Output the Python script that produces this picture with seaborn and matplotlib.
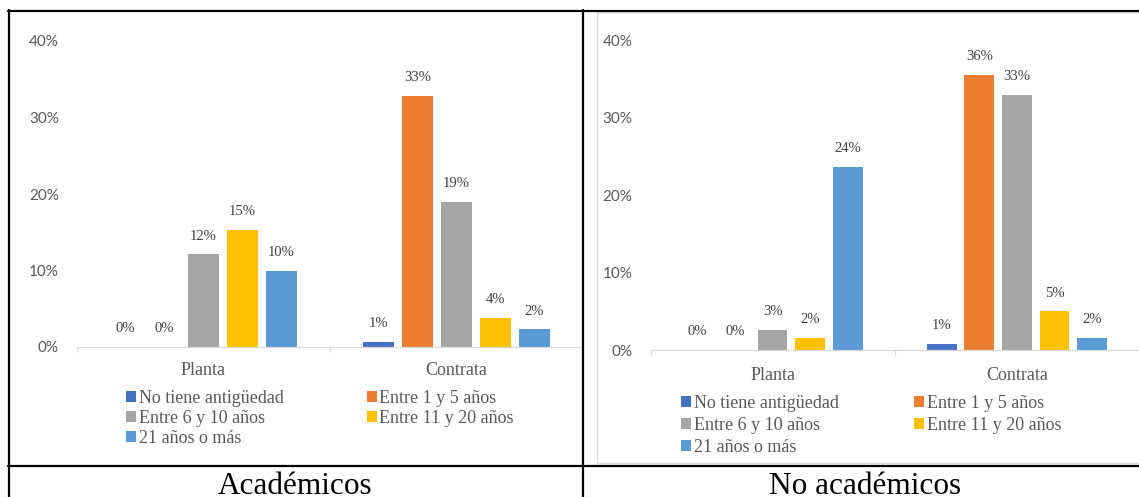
import matplotlib
matplotlib.use("Agg")
import matplotlib.pyplot as plt
from matplotlib.lines import Line2D
from matplotlib.patches import Rectangle
import seaborn as sns
import pandas as pd

# ---------------- data ----------------
tipos = ["Planta", "Contrata"]
antiguedad = ["No tiene antigüedad", "Entre 1 y 5 años", "Entre 6 y 10 años",
              "Entre 11 y 20 años", "21 años o más"]
colores = ["#4472C4", "#ED7D31", "#A5A5A5", "#FFC000", "#5B9BD5"]

acad_planta = [0.0, 0.0, 12.1, 15.3, 9.9]
acad_contrata = [0.7, 32.8, 19.0, 3.8, 2.3]
noacad_planta = [0.0, 0.0, 2.6, 1.6, 23.7]
noacad_contrata = [0.8, 35.6, 33.0, 5.0, 1.6]

yticks = [0, 10, 20, 30, 40]
ytick_labels = ["0%", "10%", "20%", "30%", "40%"]
titulos = ["Académicos", "No académicos"]

# ---------------- style ----------------
sns.set_theme(style="white")
plt.rcParams["font.family"] = ["Liberation Serif", "DejaVu Serif"]

W, H = 1139, 497
fig = plt.figure(figsize=(W / 100, H / 100), dpi=100)
fig.patch.set_facecolor("white")


def make_df(planta, contrata):
    rows = []
    for t, vals in zip(tipos, [planta, contrata]):
        for a, v in zip(antiguedad, vals):
            rows.append({"tipo": t, "antig": a, "valor": v})
    return pd.DataFrame(rows)


def panel(rect_px, cat_w, planta, contrata, leg_xy, colspace, labelspace, xlabpad):
    left, right, top, bottom = rect_px
    ax = fig.add_axes([left / W, 1 - bottom / H, (right - left) / W, (bottom - top) / H])
    df = make_df(planta, contrata)
    sns.barplot(data=df, x="tipo", y="valor", hue="antig", order=tipos,
                hue_order=antiguedad, palette=colores, width=0.77, gap=0.21,
                linewidth=0, saturation=1, ax=ax, legend=True)
    ax.set_xlim(-0.5, -0.5 + (right - left) / cat_w)
    ax.set_ylim(0, 40)
    ax.set_xlabel("")
    ax.set_ylabel("")
    ax.patch.set_alpha(0)
    for s in ["left", "top", "right"]:
        ax.spines[s].set_visible(False)
    ax.spines["bottom"].set_color("#D9D9D9")
    ax.spines["bottom"].set_linewidth(0.9)

    ax.set_yticks(yticks)
    ax.set_yticklabels(ytick_labels, fontfamily="Lato", fontsize=11, color="#595959")
    ax.tick_params(axis="y", length=0, pad=13)

    ax.set_xticks([0, 1])
    ax.set_xticklabels(tipos, fontfamily="Liberation Serif", fontsize=13, color="#595959")
    ax.tick_params(axis="x", which="major", length=0, pad=xlabpad)
    ax.set_xticks([-0.5, 0.5, 1.5], minor=True)
    ax.tick_params(axis="x", which="minor", length=3.6, width=0.9, color="#D9D9D9",
                   direction="out", bottom=True)

    for cont in ax.containers:
        ax.bar_label(cont, fmt=lambda v: f"{v:.0f}%", padding=8.5,
                     fontsize=10.5, color="#404040", fontfamily="Liberation Serif")

    h, l = ax.get_legend_handles_labels()
    ax.get_legend().remove()
    order = [0, 2, 4, 1, 3]
    ax.legend([h[i] for i in order], [l[i] for i in order], ncol=2,
              loc="upper left", bbox_to_anchor=(leg_xy[0] / W, 1 - leg_xy[1] / H),
              bbox_transform=fig.transFigure, frameon=False, borderpad=0,
              borderaxespad=0, handlelength=0.55, handleheight=0.55,
              handletextpad=0.15, columnspacing=colspace, labelspacing=labelspace,
              prop={"family": "Liberation Serif", "size": 13}, labelcolor="#595959")
    return ax


# right chart frame (light grey box)
fig.add_artist(Rectangle((597 / W, 1 - 462.5 / H), (1150 - 597) / W, (462.5 - 12) / H,
                         transform=fig.transFigure, facecolor="white",
                         edgecolor="#D9D9D9", linewidth=1.0, zorder=0))

panel((77, 583, 41, 347), 259, acad_planta, acad_contrata, (126, 390), 4.6, 0.17, 10.5)
panel((650.5, 1139, 40.5, 350), 254, noacad_planta, noacad_contrata, (681, 395), 4.2, 0.28, 12)

# table lines
lw = 1.6
for (x0, y0, x1, y1) in [(8, 10.5, 1139, 10.5), (8.5, 10, 8.5, 497),
                         (583, 10, 583, 497), (8, 465.5, 1139, 465.5)]:
    fig.add_artist(Line2D([x0 / W, x1 / W], [1 - y0 / H, 1 - y1 / H],
                          transform=fig.transFigure, color="black", linewidth=lw))

# captions
fig.text(295.5 / W, 1 - 494 / H, titulos[0], ha="center", va="baseline",
         fontsize=22.5, color="black", fontfamily="Liberation Serif")
fig.text(865 / W, 1 - 494 / H, titulos[1], ha="center", va="baseline",
         fontsize=22.5, color="black", fontfamily="Liberation Serif")

fig.savefig("out.png", dpi=100)
